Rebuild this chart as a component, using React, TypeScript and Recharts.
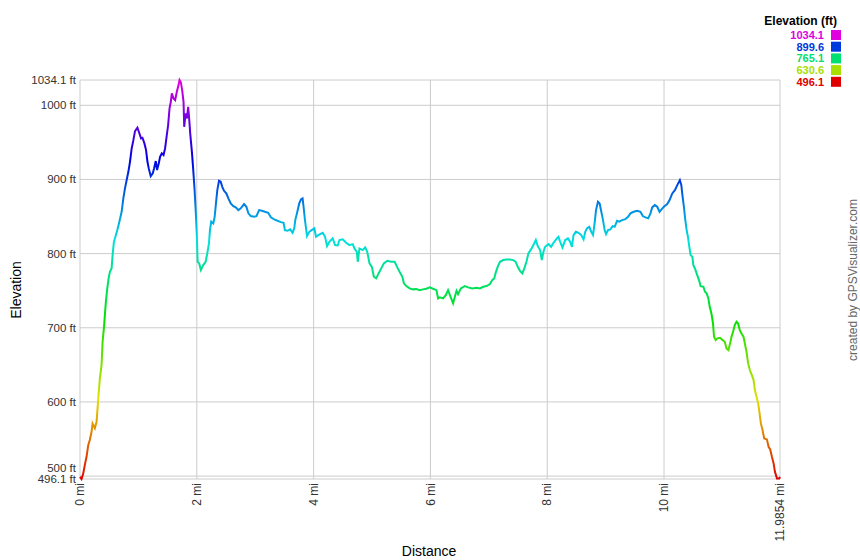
import { LineChart, Line, XAxis, YAxis, CartesianGrid } from "recharts";

// track profile as [miles, feet]
const climb: [number, number][] = [
  [0, 499], [0.026, 496.1], [0.055, 503.6], [0.082, 514.8], [0.112, 526], [0.141, 541.8],
  [0.168, 548.6], [0.198, 559.8], [0.215, 571], [0.254, 564.7], [0.284, 573.2], [0.296, 586.7],
  [0.313, 604.8], [0.34, 631.7], [0.369, 649.7], [0.387, 681], [0.409, 699.2], [0.426, 717.1],
  [0.443, 735], [0.467, 753.1], [0.49, 766.6], [0.512, 775.5], [0.541, 780], [0.558, 798],
  [0.581, 816], [0.615, 825], [0.639, 831.7], [0.674, 843], [0.713, 856.4], [0.742, 874.5],
  [0.77, 888], [0.799, 899.2],
];

const summit: [number, number][] = [
  [0.828, 910.3], [0.856, 923.8], [0.885, 941.9], [0.914, 953], [0.942, 965.2], [0.983, 969.7],
  [1.017, 962.1], [1.045, 955.4], [1.069, 956.2], [1.103, 948.6], [1.131, 939.6], [1.155, 923.8],
  [1.177, 914.9], [1.211, 904.5], [1.246, 908.2], [1.268, 914.9], [1.297, 924.8], [1.32, 912.6],
  [1.349, 921.7], [1.371, 930.6], [1.4, 935.2], [1.43, 932.9], [1.457, 941.9], [1.486, 959.8],
  [1.509, 973.3], [1.533, 995.8], [1.555, 1004.7], [1.572, 1016], [1.601, 1009.3], [1.629, 1007],
  [1.658, 1018.2], [1.687, 1027.2], [1.704, 1034.1], [1.727, 1030.9], [1.749, 1020.5],
  [1.773, 1004.7], [1.784, 971], [1.808, 989.1], [1.83, 982.3], [1.852, 998], [1.869, 982.3],
  [1.887, 962.1], [1.916, 937.3], [1.933, 919.4], [1.945, 905.9], [1.962, 885.6], [1.979, 861],
  [1.99, 843],
];

const ridge: [number, number][] = [
  [2.002, 820.5], [2.014, 789], [2.041, 786.8], [2.07, 777.8], [2.11, 784.5], [2.151, 789],
  [2.179, 800.3], [2.208, 813.8], [2.225, 831.7], [2.247, 843], [2.282, 840.8], [2.306, 849.7],
  [2.328, 867.7], [2.351, 885.6], [2.38, 898.2], [2.409, 896.9], [2.436, 890.1], [2.466, 884.7],
  [2.505, 881.2], [2.54, 874.5], [2.581, 867.7], [2.625, 864.1], [2.667, 862.3], [2.711, 858.7],
  [2.753, 861], [2.809, 866.8], [2.849, 863.2], [2.883, 854.3], [2.924, 850.6], [2.981, 849.7],
  [3.021, 850.6], [3.067, 858.7], [3.113, 857.8], [3.165, 856.4], [3.222, 855.1], [3.268, 848.9],
  [3.325, 846.2], [3.381, 844.3], [3.44, 842.5], [3.485, 841.6], [3.509, 831.7], [3.553, 830.8],
  [3.6, 832.7], [3.639, 828.1], [3.668, 834], [3.686, 845.2], [3.715, 854.3], [3.754, 867.7],
  [3.784, 873.1], [3.811, 874.5], [3.828, 863.2], [3.852, 845.2], [3.887, 823.6], [3.926, 829.4],
  [3.966, 831.7],
];

const descent: [number, number][] = [
  [4.012, 834], [4.041, 822.7], [4.081, 825], [4.155, 828.1], [4.196, 822.7], [4.23, 810.1],
  [4.27, 815.9], [4.326, 820.5], [4.368, 811.5], [4.412, 811], [4.442, 818.3], [4.498, 819.2],
  [4.557, 814.6], [4.613, 811.5], [4.67, 812.8], [4.699, 807], [4.739, 802.5], [4.756, 789],
  [4.785, 807], [4.842, 804.8], [4.883, 808.4], [4.918, 802.5], [4.957, 786.8], [4.997, 782.2],
  [5.031, 768.8], [5.072, 766.6], [5.112, 773.3], [5.158, 780.1], [5.203, 786.8], [5.261, 790.3],
  [5.33, 789], [5.387, 789], [5.433, 781.4], [5.472, 775.5], [5.519, 768.8], [5.546, 759.9],
  [5.588, 756.2], [5.644, 753.1], [5.701, 751.8], [5.759, 752.2], [5.816, 750.8], [5.873, 751.8],
  [5.931, 752.6], [5.988, 754.5],
];

const lowPoint: [number, number][] = [
  [6.045, 752.6], [6.103, 750.8], [6.131, 739.6], [6.16, 741], [6.216, 739.6], [6.263, 744],
  [6.302, 750.8], [6.344, 741.8], [6.388, 732.9], [6.418, 741.8], [6.447, 749.9], [6.474, 745.4],
  [6.521, 753.1], [6.589, 756.2], [6.646, 754.5], [6.715, 753.1], [6.79, 753.9], [6.847, 753.1],
  [6.904, 755.3], [6.962, 756.2], [7.019, 758.9], [7.058, 764.3], [7.093, 766.6], [7.117, 774.1],
  [7.151, 782.2], [7.191, 789], [7.247, 791.3], [7.306, 792.2], [7.363, 792.2], [7.419, 791.3],
  [7.46, 789], [7.495, 782.2], [7.534, 776.8], [7.574, 773.3], [7.608, 780.1], [7.649, 790.3],
  [7.677, 800.3], [7.723, 805.7], [7.763, 811.5], [7.804, 818.3], [7.838, 810.1], [7.878, 804.8],
  [7.907, 791.3], [7.935, 802.5], [7.964, 809.2],
];

const returnLeg: [number, number][] = [
  [8.021, 812.8], [8.067, 809.2], [8.107, 814.6], [8.165, 820.5], [8.192, 822.7], [8.222, 815.9],
  [8.261, 808.4], [8.308, 818.3], [8.354, 820.5], [8.393, 815.9], [8.423, 809.2], [8.45, 825],
  [8.491, 829.4], [8.536, 828.1], [8.582, 825], [8.622, 819.2], [8.651, 829.4], [8.68, 834],
  [8.72, 836.2], [8.754, 829.4], [8.784, 825], [8.811, 840.8], [8.835, 858.7], [8.869, 869.9],
  [8.897, 867.7], [8.926, 856.4], [8.955, 845.2], [8.983, 831.7], [9.007, 826.3], [9.041, 831.7],
  [9.081, 832.7], [9.12, 837.1], [9.155, 836.2], [9.196, 844.3], [9.235, 843], [9.282, 845.2],
  [9.338, 846.5], [9.385, 849.7], [9.424, 854.3], [9.481, 856.4], [9.54, 857.8], [9.596, 856.4],
  [9.636, 850.6], [9.682, 848.9], [9.729, 847.6], [9.768, 854.3], [9.797, 862.3], [9.842, 865.4],
  [9.883, 863.2], [9.923, 856.4], [9.957, 859.6], [9.997, 863.2], [10.055, 866.8], [10.095, 872.2],
  [10.141, 881.2], [10.186, 885.6], [10.227, 892.4], [10.271, 899.1],
];

const finalDrop: [number, number][] = [
  [10.296, 892.4], [10.318, 876.6], [10.34, 863.2], [10.364, 845.2], [10.387, 831.7],
  [10.409, 822.7], [10.433, 809.2], [10.455, 798], [10.485, 795.7], [10.502, 784.5], [10.529, 780],
  [10.558, 773.3], [10.598, 764.3], [10.627, 756.2], [10.674, 755.3], [10.701, 748.5],
  [10.73, 746.4], [10.759, 739.6], [10.782, 728.3], [10.811, 719.4], [10.838, 705.9],
  [10.856, 687.8], [10.885, 683.4], [10.914, 685.7], [10.959, 686.5], [11, 683.4], [11.04, 681.1],
  [11.069, 672.2], [11.103, 669.9], [11.131, 679], [11.155, 687.8], [11.182, 694.6],
  [11.211, 703.6], [11.241, 708.1], [11.268, 705.9], [11.297, 696.9], [11.326, 692.4],
  [11.361, 687.8], [11.383, 679], [11.412, 667.6], [11.44, 652], [11.469, 643], [11.503, 636.2],
  [11.533, 629.5], [11.555, 616], [11.584, 607], [11.612, 598], [11.636, 584.6], [11.658, 571.1],
  [11.687, 562], [11.715, 550.8], [11.761, 549.5], [11.79, 539.5], [11.818, 536], [11.847, 526],
  [11.876, 517.1], [11.899, 505.8], [11.933, 496.9], [11.972, 496.9], [11.9854, 499],
];

const xTicks = [0, 2, 4, 6, 8, 10, 11.9854];
const yTicks = [496.1, 500, 600, 700, 800, 900, 1000, 1034.1];
const legendValues = ["1034.1", "899.6", "765.1", "630.6", "496.1"];
const legendColors = ["#e000e0", "#0038e0", "#00e070", "#a8e000", "#e00000"];

const FONT = "Arial, 'Liberation Sans', sans-serif";

const track = [...climb, ...summit, ...ridge, ...descent, ...lowPoint, ...returnLeg, ...finalDrop];
const data = track.map(([mi, ft]) => ({ mi, ft }));

// hue runs magenta (top) -> red (bottom)
const gradStops = Array.from({ length: 11 }, (_, i) => ({
  offset: i / 10,
  color: `hsl(${300 * (1 - i / 10)}, 100%, 44%)`,
}));

const XTick = ({ x, y, payload }: any) => (
  <text
    x={x}
    y={y}
    transform={`rotate(-90, ${x}, ${y})`}
    textAnchor="end"
    dy="0.35em"
    fontSize={12}
    fontFamily={FONT}
    fill="#333"
  >
    {`${payload.value} mi`}
  </text>
);

const YTick = ({ x, y, payload }: any) => (
  <text
    x={x}
    y={y}
    textAnchor="end"
    dy={payload.value === 500 ? "-0.35em" : "0.35em"}
    fontSize={11.5}
    fontFamily={FONT}
    fill="#333"
  >
    {`${payload.value} ft`}
  </text>
);

export default function App() {
  return (
    <div style={{ position: "absolute", left: 0, top: 0, width: 860, height: 560, background: "#fff" }}>
      <LineChart width={860} height={560} data={data} margin={{ top: 80, right: 80, bottom: 0, left: 0 }}>
        <defs>
          <linearGradient id="elevGrad" gradientUnits="userSpaceOnUse" x1={0} y1={80} x2={0} y2={479}>
            {gradStops.map((s) => (
              <stop key={s.offset} offset={s.offset} stopColor={s.color} />
            ))}
          </linearGradient>
        </defs>
        <CartesianGrid stroke="#cccccc" />
        <XAxis
          dataKey="mi"
          type="number"
          domain={[0, 11.9854]}
          ticks={xTicks}
          interval={0}
          height={81}
          tickSize={0}
          tickMargin={4}
          axisLine={false}
          tickLine={false}
          tick={<XTick />}
        />
        <YAxis
          type="number"
          domain={[496.1, 1034.1]}
          ticks={yTicks}
          interval={0}
          width={80}
          tickSize={0}
          tickMargin={4}
          axisLine={false}
          tickLine={false}
          tick={<YTick />}
        />
        <Line
          type="linear"
          dataKey="ft"
          stroke="url(#elevGrad)"
          strokeWidth={2}
          dot={false}
          isAnimationActive={false}
        />
      </LineChart>

      <svg width={860} height={560} style={{ position: "absolute", left: 0, top: 0, pointerEvents: "none" }}>
        <text x={837} y={25} textAnchor="end" fontSize={12} fontWeight="bold" fontFamily={FONT} fill="#000">
          Elevation (ft)
        </text>
        {legendValues.map((v, i) => (
          <g key={v}>
            <text
              x={824}
              y={35 + i * 11.7}
              dy="0.36em"
              textAnchor="end"
              fontSize={11}
              fontWeight="bold"
              fontFamily={FONT}
              fill={legendColors[i]}
            >
              {v}
            </text>
            <rect x={831} y={30 + i * 11.7} width={10} height={10} fill={legendColors[i]} />
          </g>
        ))}
        <text x={16} y={290} transform="rotate(-90, 16, 290)" textAnchor="middle" dy="0.35em" fontSize={14} fontFamily={FONT} fill="#000">
          Elevation
        </text>
        <text x={429} y={551} textAnchor="middle" dy="0.35em" fontSize={14} fontFamily={FONT} fill="#000">
          Distance
        </text>
        <text x={853} y={280} transform="rotate(-90, 853, 280)" textAnchor="middle" dy="0.35em" fontSize={12} fontFamily={FONT} fill="#666">
          created by GPSVisualizer.com
        </text>
      </svg>
    </div>
  );
}
